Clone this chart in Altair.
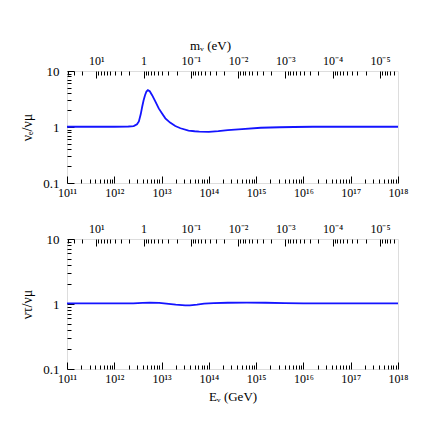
import json
import altair as alt
import pandas as pd

# ---- data ----
log_e_top = [11.0, 12.0, 12.3, 12.41, 12.48, 12.52, 12.56, 12.59, 12.62, 12.65, 12.68, 12.71,
             12.75, 12.80, 12.87, 12.94, 13.0, 13.08, 13.18, 13.29, 13.4, 13.57, 13.7, 13.8,
             14.0, 14.2, 14.4, 14.7, 15.1, 15.5, 15.8, 16.2, 17.0, 18.0]
ratio_top = [1.01, 1.01, 1.02, 1.04, 1.12, 1.26, 1.7, 2.3, 3.0, 3.7, 4.3, 4.55,
             4.35, 3.7, 2.85, 2.15, 1.8, 1.43, 1.2, 1.04, 0.95, 0.86, 0.84, 0.83,
             0.82, 0.845, 0.88, 0.92, 0.97, 0.99, 1.0, 1.01, 1.01, 1.01]

log_e_bot = [11.0, 12.0, 12.4, 12.6, 12.75, 12.95, 13.1, 13.3, 13.5, 13.6, 13.75, 13.9,
             14.1, 14.4, 14.8, 15.2, 15.6, 16.0, 17.0, 18.0]
ratio_bot = [1.02, 1.02, 1.025, 1.04, 1.05, 1.04, 1.01, 0.975, 0.955, 0.955, 0.975, 1.01,
             1.035, 1.045, 1.05, 1.045, 1.035, 1.025, 1.02, 1.02]

e_major = [1e11, 1e12, 1e13, 1e14, 1e15, 1e16, 1e17, 1e18]
e_labels = ["10¹¹", "10¹²", "10¹³", "10¹⁴", "10¹⁵", "10¹⁶", "10¹⁷", "10¹⁸"]
m_major = [10, 1, 0.1, 0.01, 0.001, 1e-4, 1e-5]
m_labels = ["10¹", "1", "10⁻¹", "10⁻²", "10⁻³", "10⁻⁴", "10⁻⁵"]
y_major = [0.1, 1, 10]
y_labels = ["0.1", "1", "10"]

MZ2_HALF = 4.158e12  # (M_Z^2 / 2) in eV*GeV : m_nu = MZ2_HALF / E

e_minor = [k * 10.0 ** n for n in range(11, 18) for k in range(2, 10)]
m_minor = [k * 10.0 ** n for n in range(-6, 2) for k in range(2, 10)
           if MZ2_HALF / 1e18 <= k * 10.0 ** n <= MZ2_HALF / 1e11]
y_minor = [k * 10.0 ** n for n in (-1, 0) for k in range(2, 10)]

FONT = "Liberation Serif"


def expr_list(labels, offset_expr):
    return json.dumps(labels, ensure_ascii=False) + "[" + offset_expr + "]"


e_expr = expr_list(e_labels, "round(log(datum.value)/LN10) - 11")
m_expr = expr_list(m_labels, "1 - round(log(datum.value)/LN10)")
y_expr = expr_list(y_labels, "round(log(datum.value)/LN10) + 1")


def make_df(loge, ratio):
    e = [10.0 ** v for v in loge]
    return pd.DataFrame({"E": e, "R": ratio, "m": [MZ2_HALF / v for v in e]})


def panel(df, ytitle, h, top_title, bottom_title):
    xs = alt.Scale(type="log", domain=[1e11, 1e18], nice=False)
    ys = alt.Scale(type="log", domain=[0.1, 10], nice=False)
    ms = alt.Scale(type="log", domain=[MZ2_HALF / 1e18, MZ2_HALF / 1e11], reverse=True, nice=False)
    common = dict(domain=False, grid=False, tickColor="black", tickWidth=1,
                  labelFont=FONT, titleFont=FONT, labelColor="black", titleColor="black",
                  titleFontWeight="normal", labelFlush=False, labelOverlap=False)
    base = alt.Chart(df)

    bx_kw = dict(orient="bottom", values=e_major, labelExpr=e_expr, tickSize=7, offset=-7,
                 labelPadding=4, labelFontSize=12, **common)
    if bottom_title:
        bx_kw.update(title=bottom_title, titleFontSize=13, titlePadding=6)
    else:
        bx_kw.update(title=None)

    line = base.mark_line(color="#1414ff", strokeWidth=1.8, clip=True).encode(
        x=alt.X("E:Q", scale=xs, axis=alt.Axis(**bx_kw)),
        y=alt.Y("R:Q", scale=ys, axis=alt.Axis(orient="left", values=y_major, labelExpr=y_expr,
                                               tickSize=7, offset=-7, labelPadding=8,
                                               labelFontSize=13, title=ytitle, titleFontSize=14,
                                               titlePadding=8, **common)),
    )
    minor = base.mark_line(opacity=0).encode(
        x=alt.X("E:Q", scale=xs, axis=alt.Axis(orient="bottom", values=e_minor, labels=False,
                                               tickSize=4, offset=-4, title=None, **common)),
        y=alt.Y("R:Q", scale=ys, axis=alt.Axis(orient="left", values=y_minor, labels=False,
                                               tickSize=4, offset=-4, title=None, **common)),
    )
    tx_kw = dict(orient="top", values=m_major, labelExpr=m_expr, tickSize=7, offset=-7,
                 labelPadding=4, labelFontSize=12, **common)
    if top_title:
        tx_kw.update(title=top_title, titleFontSize=13, titlePadding=2, titleX=143)
    else:
        tx_kw.update(title=None)
    top = base.mark_line(opacity=0).encode(
        x=alt.X("m:Q", scale=ms, axis=alt.Axis(**tx_kw)),
        y=alt.Y("R:Q", scale=ys, axis=None),
    )
    topminor = base.mark_line(opacity=0).encode(
        x=alt.X("m:Q", scale=ms, axis=alt.Axis(orient="top", values=m_minor, labels=False,
                                               tickSize=4, offset=-4, title=None, **common)),
        y=alt.Y("R:Q", scale=ys, axis=None),
    )
    return alt.layer(line, minor, top, topminor).resolve_scale(
        x="independent", y="independent").properties(width=331, height=h)


top_panel = panel(make_df(log_e_top, ratio_top), "νₑ/νμ", 112, "mᵥ (eV)", None)
bot_panel = panel(make_df(log_e_bot, ratio_bot), "ντ/νμ", 130, None, "Eᵥ (GeV)")

chart = alt.vconcat(top_panel, bot_panel, spacing=22).properties(
    padding={"left": 12, "top": 30, "right": 5, "bottom": 5}
).configure_view(stroke="black", strokeWidth=1).configure(background="white")

chart.save("out.html", embed_options={"renderer": "svg", "actions": False})
